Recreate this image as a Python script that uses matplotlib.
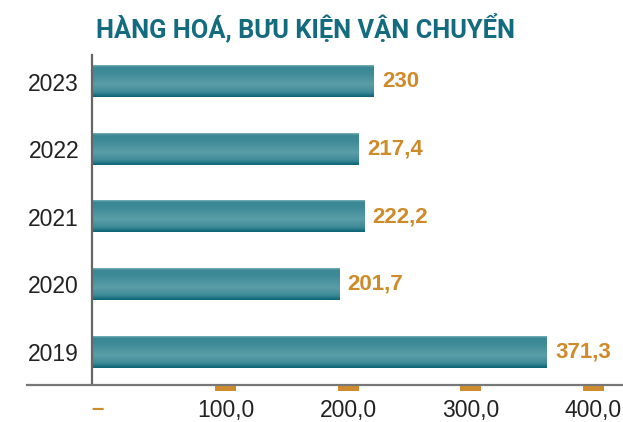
import matplotlib
matplotlib.use("Agg")
import matplotlib.pyplot as plt
import numpy as np
from matplotlib.colors import LinearSegmentedColormap
from matplotlib.patches import Rectangle
from matplotlib.lines import Line2D
from matplotlib.transforms import ScaledTranslation

# ---- data ----
years = ["2019", "2020", "2021", "2022", "2023"]
values = [371.3, 201.7, 222.2, 217.4, 230]
tick_values = [0, 100, 200, 300, 400]
tick_labels = ["–", "100,0", "200,0", "300,0", "400,0"]
title = "HÀNG HOÁ, BƯU KIỆN VẬN CHUYỂN"

W, H = 623, 422
fig = plt.figure(figsize=(W / 100, H / 100), dpi=100)
ax = fig.add_axes([91.5 / W, (H - 384) / H, (W - 91.5) / W, (384 - 55) / H])

teal_cmap = LinearSegmentedColormap.from_list(
    "teal",
    [(0.0, "#7db4bc"), (0.05, "#3a8794"), (0.25, "#3f8b98"), (0.6, "#5a9ea8"),
     (0.85, "#3f8b98"), (1.0, "#0c6476")])
grad = np.linspace(0, 1, 64).reshape(-1, 1)

bar_h = 0.465
ypos = np.arange(len(years))
for y, v in zip(ypos, values):
    ax.imshow(grad, cmap=teal_cmap, extent=(0, v, y - bar_h / 2, y + bar_h / 2),
              aspect="auto", interpolation="bicubic", zorder=2)
    lab = f"{v:g}".replace(".", ",")
    ax.annotate(lab, (v, y), xytext=(6.5, 0), textcoords="offset points",
                ha="left", va="center", fontsize=16, fontweight="bold",
                color="#cf8a2a", family=["Liberation Sans", "DejaVu Sans"])

ax.set_xlim(0, 434)
ax.set_ylim(-0.473, 4.392)

ax.set_yticks(ypos)
ax.set_yticklabels(years, fontsize=16.5, color="#222222",
                   family=["Liberation Sans", "DejaVu Sans"])
ax.tick_params(axis="y", length=0, pad=9)
ax.set_xticks([])

for s in ["top", "right", "bottom"]:
    ax.spines[s].set_visible(False)
ax.spines["left"].set_color("#666666")
ax.spines["left"].set_linewidth(1.6)

# baseline
fig.add_artist(Line2D([27 / W, 1.0], [(H - 385) / H, (H - 385) / H],
                      color="#777777", lw=1.6))

# x tick labels and orange tick marks
xt = ax.get_xaxis_transform()
px = 1.0 / 100
ax_h = 384 - 55
for tv, tl in zip(tick_values, tick_labels):
    off = 6 if tv == 0 else 12
    tr = xt + ScaledTranslation(off * px, 0, fig.dpi_scale_trans)
    if tv == 0:
        ax.text(tv, -26 / ax_h, tl, transform=tr, ha="center", va="center",
                fontsize=16, fontweight="bold", color="#cf8a2a",
                family=["Liberation Sans", "DejaVu Sans"], clip_on=False)
    else:
        ax.text(tv, -26 / ax_h, tl, transform=tr, ha="center", va="center",
                fontsize=16.5, color="#222222",
                family=["Liberation Sans", "DejaVu Sans"], clip_on=False)
        rtr = xt + ScaledTranslation((off - 10.5) * px, 0, fig.dpi_scale_trans)
        ax.add_patch(Rectangle((tv, -6.7 / ax_h), 21 / 1.2247, 5.2 / ax_h,
                               transform=rtr, color="#d08c2c", clip_on=False,
                               lw=0))

fig.text(305.5 / W, (H - 28) / H, title, ha="center", va="center",
         fontsize=18.3, fontweight="bold", color="#136b80",
         family=["Liberation Sans Narrow", "Roboto", "DejaVu Sans"])

fig.savefig("out.png", dpi=100)
